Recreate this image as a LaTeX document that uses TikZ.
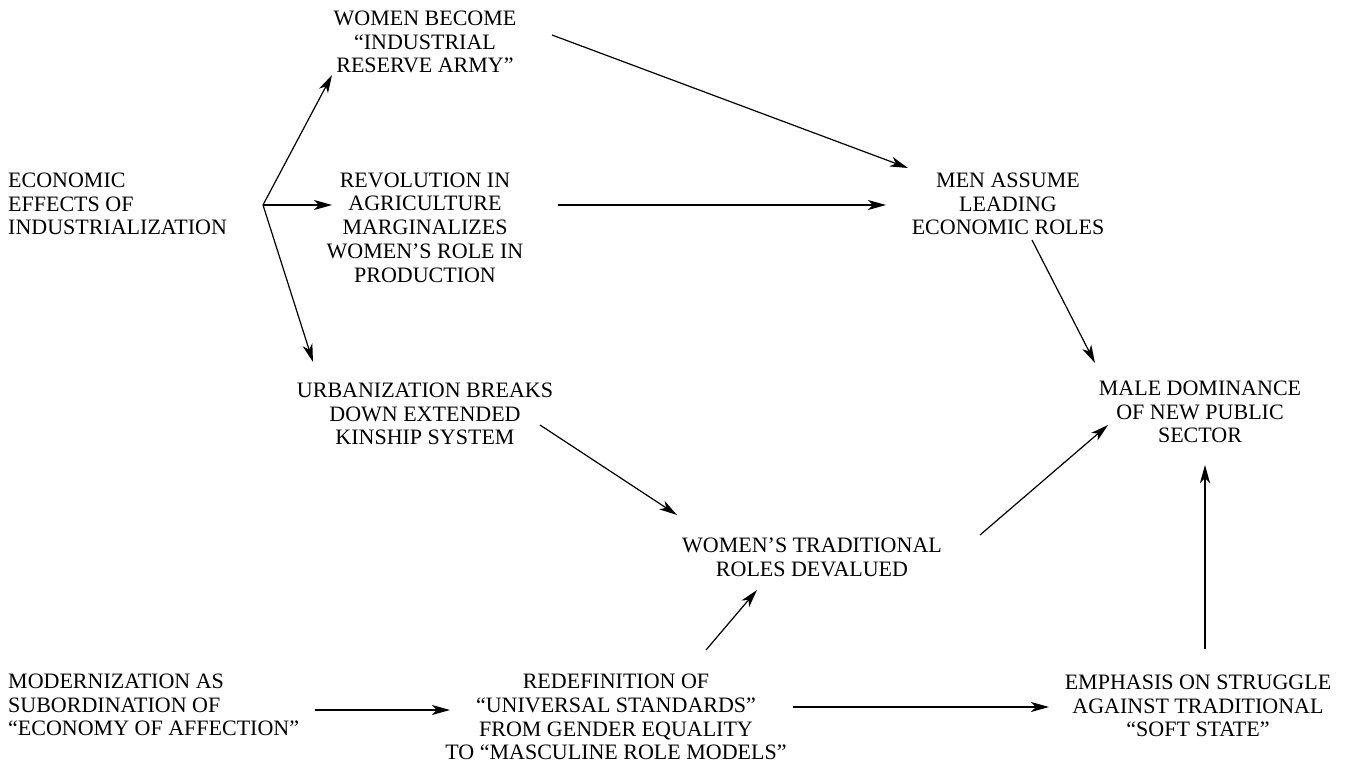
\documentclass[tikz,border=0pt]{standalone}
\usepackage{fontspec}
\setmainfont{Liberation Serif}
\usetikzlibrary{arrows.meta,calc}
\begin{document}
\begin{tikzpicture}[x=1pt,y=-1pt,
  lbl/.style={inner sep=0pt,align=center,font=\fontsize{22}{23.8}\selectfont},
  lbll/.style={inner sep=0pt,align=left,font=\fontsize{22}{23.8}\selectfont},
  arr/.style={line width=1.2pt,-{Stealth[length=18pt,width=10pt,inset=5pt]}}]
\useasboundingbox (0,0) rectangle (1350,768);
\node[lbll,anchor=west] (econ) at (8,204) {ECONOMIC\\EFFECTS OF\\INDUSTRIALIZATION};
\node[lbl] (wira) at (425,42) {WOMEN BECOME\\“INDUSTRIAL\\RESERVE ARMY”};
\node[lbl] (rev) at (425,227.5) {REVOLUTION IN\\AGRICULTURE\\MARGINALIZES\\WOMEN’S ROLE IN\\PRODUCTION};
\node[lbl] (men) at (1008,204) {MEN ASSUME\\LEADING\\ECONOMIC ROLES};
\node[lbl] (urb) at (425,414) {URBANIZATION BREAKS\\DOWN EXTENDED\\KINSHIP SYSTEM};
\node[lbl] (male) at (1200,412) {MALE DOMINANCE\\OF NEW PUBLIC\\SECTOR};
\node[lbl] (wtrad) at (812,557) {WOMEN’S TRADITIONAL\\ROLES DEVALUED};
\node[lbll,anchor=west] (mod) at (8,705) {MODERNIZATION AS\\SUBORDINATION OF\\“ECONOMY OF AFFECTION”};
\node[lbl] (redef) at (616,717) {REDEFINITION OF\\“UNIVERSAL STANDARDS”\\FROM GENDER EQUALITY\\TO “MASCULINE ROLE MODELS”};
\node[lbl] (emph) at (1198,706) {EMPHASIS ON STRUGGLE\\AGAINST TRADITIONAL\\“SOFT STATE”};
\coordinate (fork) at (263,205);
\draw[arr] (fork) -- ($(wira)+(-93,33)$);
\draw[arr] (fork) -- ($(rev)+(-93,-22.5)$);
\draw[arr] (fork) -- ($(urb)+(-112,-52)$);
\draw[arr] ($(wira)+(127,-7)$) -- ($(men)+(-100,-36)$);
\draw[arr] ($(rev)+(133,-22.5)$) -- ($(men)+(-122,1)$);
\draw[arr] ($(men)+(24,36)$) -- ($(male)+(-105,-49)$);
\draw[arr] ($(urb)+(115,11)$) -- ($(wtrad)+(-135,-42)$);
\draw[arr] ($(wtrad)+(168,-22)$) -- ($(male)+(-92,13)$);
\draw[arr] ($(redef)+(90,-67)$) -- ($(wtrad)+(-55,33)$);
\draw[arr] ($(mod.west)+(307,5)$) -- ($(redef)+(-166,-7)$);
\draw[arr] ($(redef)+(177,-10)$) -- ($(emph)+(-149,1)$);
\draw[arr] ($(emph)+(7,-57)$) -- ($(male)+(5,53)$);
\end{tikzpicture}
\end{document}
